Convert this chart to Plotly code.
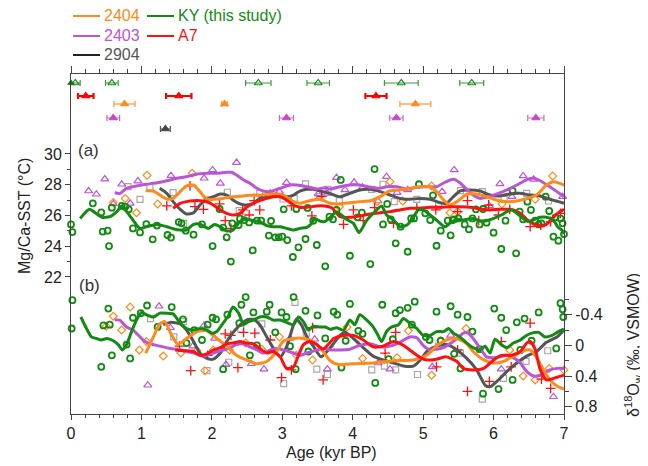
import plotly.graph_objects as go

# ---------------- data (ages in kyr BP) ----------------
# Mg/Ca-SST scatter (age, degC)
ky_sst_pts = [(0.00,25.42),(0.02,24.92),(0.31,26.79),(0.43,26.20),(0.45,24.95),(0.52,25.01),(0.54,24.01),(0.58,26.51),
              (0.72,26.62),(0.77,26.57),(0.82,26.40),(0.88,25.16),(0.98,24.90),(1.07,25.44),(1.16,24.45),(1.22,25.34),
              (1.37,24.73),(1.42,24.56),(1.53,25.57),(1.57,25.49),(1.63,25.01),(1.74,24.75),(1.86,25.42),(2.01,24.01),
              (2.11,26.42),(2.16,25.21),(2.21,24.58),(2.27,23.00),(2.29,25.49),(2.38,25.38),(2.40,25.79),(2.46,25.70),
              (2.53,25.55),(2.58,23.73),(2.64,25.66),(2.70,25.66),(2.81,24.69),(2.84,25.64),(2.90,24.58),(2.95,24.58),
              (3.00,24.62),(3.02,26.40),(3.07,24.40),(3.15,23.30),(3.20,26.42),(3.23,23.93),(3.33,24.47),(3.36,26.49),
              (3.44,25.66),(3.49,24.08),(3.61,22.69),(3.67,25.92),(3.72,25.75),(3.77,26.36),(3.83,28.31),(3.96,23.38),
              (4.07,25.88),(4.13,26.18),(4.25,22.84),(4.31,29.02),(4.43,25.42),(4.49,26.75),(4.54,25.75),(4.61,24.19),
              (4.68,25.27),(4.78,23.64),(4.83,25.81),(4.87,25.81),(4.94,28.03),(5.03,26.14),(5.10,25.70),(5.14,27.31),
              (5.19,24.03),(5.25,25.01),(5.35,25.66),(5.39,24.71),(5.42,25.70),(5.44,25.75),(5.50,25.81),(5.59,25.42),
              (5.65,25.10),(5.70,25.81),(5.75,26.40),(5.80,25.42),(5.85,26.42),(5.90,25.53),(6.00,24.88),(6.11,23.82),
              (6.17,25.66),(6.27,27.60),(6.32,23.54),(6.37,26.25),(6.42,25.75),(6.48,26.90),(6.53,26.36),(6.59,25.66),
              (6.64,25.42),(6.68,25.49),(6.74,27.22),(6.79,26.29),(6.85,24.62),(6.88,25.88),(6.92,24.36),(6.95,25.81),
              (6.98,25.49),(7.00,24.79)]
c2403_sst_pts = [(0.25,27.59),(0.36,27.38),(0.48,28.37),(0.60,26.75),(0.72,28.03),(0.84,26.79),(0.95,28.24),(1.42,28.59),
                 (1.89,28.42),(2.01,28.96),(2.12,28.09),(2.35,29.44),(2.83,27.44),(2.96,27.55),(3.06,28.13),(3.51,27.40),
                 (3.64,27.44),(3.77,28.46),(3.89,27.66),(4.02,28.16),(4.14,27.83),(4.36,26.94),(4.48,28.52),(4.63,27.48),
                 (4.78,27.66),(5.27,27.55),(5.44,28.96),(5.94,26.62),(6.09,28.05),(6.26,27.22),(6.42,28.57),(6.57,28.35),
                 (6.98,27.22)]
c2404_sst_pts = [(0.60,26.85),(0.77,27.11),(0.93,26.18),(1.08,28.61),(1.23,26.75),(1.72,28.74),(3.81,26.57),(4.35,26.90),
                 (4.53,28.20),(4.71,26.94),(5.12,27.92),(5.38,26.18),(5.49,26.25),(6.12,26.75),(6.59,27.05),(6.84,28.57)]
c2904_sst_pts = [(0.81,27.87),(0.98,27.05),(1.12,27.83),(1.45,27.48),(1.60,25.49),(1.93,27.01),(2.22,27.51),(2.39,26.31),
                 (2.68,27.44),(3.01,27.07),(3.17,27.11),(3.33,28.05),(3.53,27.22),(3.65,27.70),(3.81,26.96),(4.27,27.70),
                 (4.43,28.03),(4.59,26.90),(4.91,27.05),(5.22,26.62),(5.53,27.61),(5.84,27.55),(6.15,27.05),(6.47,27.44),
                 (6.78,26.94)]
a7_sst_pts = [(1.36,26.62),(1.69,27.92),(1.76,26.57),(1.88,26.40),(2.11,26.75),(2.19,25.66),(2.27,25.16),(2.44,26.36),
              (2.53,26.03),(2.60,26.96),(2.68,26.36),(3.13,26.62),(3.42,25.97),(3.56,27.22),(3.87,25.42),(4.01,26.36),
              (4.15,25.66),(4.31,26.51),(4.58,25.49),(4.91,26.47),(5.18,26.36),(5.49,26.25),(5.63,26.96),(5.79,25.66),
              (5.93,26.68),(6.07,26.03),(6.23,26.40),(6.52,25.27),(6.67,25.38),(6.81,25.60),(6.95,26.14)]

# Mg/Ca-SST smoothed curves
ky_sst_line = [(0.13,25.81),(0.26,26.40),(0.32,26.25),(0.44,25.88),(0.55,25.92),(0.65,26.25),(0.72,26.62),(0.79,26.25),
               (0.88,25.70),(0.98,25.16),(1.07,25.27),(1.22,25.42),(1.36,25.27),(1.45,25.14),(1.55,25.05),(1.64,25.05),
               (1.74,25.42),(1.83,25.44),(1.95,25.16),(2.04,25.42),(2.12,25.27),(2.21,24.99),(2.30,25.05),(2.40,25.60),
               (2.49,25.75),(2.59,25.66),(2.68,25.60),(2.78,25.34),(2.87,25.27),(2.97,25.27),(3.06,25.16),(3.16,25.05),
               (3.25,25.16),(3.35,25.23),(3.42,25.49),(3.46,25.81),(3.54,25.62),(3.61,25.62),(3.68,25.88),(3.77,26.25),
               (3.84,26.03),(3.91,25.75),(4.01,25.49),(4.09,24.88),(4.20,25.70),(4.29,26.14),(4.41,26.62),(4.48,26.03),
               (4.58,25.70),(4.67,25.27),(4.77,25.38),(4.86,25.88),(4.93,26.36),(5.00,26.36),(5.10,26.03),(5.19,25.70),
               (5.31,25.27),(5.38,25.49),(5.48,25.75),(5.57,25.70),(5.71,25.81),(5.81,25.66),(5.90,25.66),(6.00,25.81),
               (6.11,26.03),(6.19,26.25),(6.26,26.36),(6.33,26.14),(6.40,25.88),(6.49,25.60),(6.56,25.70),(6.66,25.88),
               (6.75,25.88),(6.85,25.70),(6.91,25.27),(6.97,25.05),(7.00,24.79)]
c2403_sst_line = [(0.62,27.48),(0.70,27.44),(0.79,27.77),(0.93,27.92),(1.07,28.03),(1.22,28.13),(1.36,28.26),(1.50,28.42),
                  (1.64,28.52),(1.78,28.68),(1.93,28.74),(2.07,28.74),(2.21,28.81),(2.28,28.81),(2.35,28.63),(2.45,28.31),
                  (2.54,28.09),(2.64,27.77),(2.73,27.59),(2.83,27.55),(2.92,27.70),(3.01,27.83),(3.11,27.98),(3.20,27.98),
                  (3.35,27.87),(3.49,27.72),(3.60,27.80),(3.68,27.72),(3.82,27.87),(3.96,27.98),(4.10,27.98),(4.25,27.83),
                  (4.39,27.77),(4.48,27.87),(4.63,27.87),(4.77,27.70),(4.91,27.83),(5.05,27.87),(5.19,27.87),(5.33,28.20),
                  (5.43,28.35),(5.52,28.13),(5.62,27.70),(5.71,27.33),(5.81,27.11),(5.90,27.18),(6.05,27.40),(6.19,27.66),
                  (6.33,27.98),(6.48,28.35),(6.57,28.42),(6.66,28.26),(6.80,27.87),(6.90,27.55),(7.00,27.22)]
c2404_sst_line = [(1.06,27.61),(1.17,27.59),(1.26,27.33),(1.36,27.07),(1.45,27.11),(1.55,27.55),(1.64,27.92),(1.74,27.98),
                  (1.83,27.55),(1.93,27.05),(2.02,27.05),(2.16,27.11),(2.30,27.22),(2.45,27.27),(2.59,27.33),(2.73,27.33),
                  (2.87,27.40),(3.01,27.33),(3.16,26.90),(3.25,26.79),(3.39,26.96),(3.54,27.05),(3.68,26.79),(3.82,26.75),
                  (3.96,26.83),(4.10,26.90),(4.25,26.96),(4.39,27.22),(4.53,27.61),(4.67,27.66),(4.81,27.77),(4.95,27.87),
                  (5.10,27.87),(5.19,27.55),(5.29,27.01),(5.38,26.68),(5.48,26.90),(5.62,27.38),(5.76,27.40),(5.90,27.22),
                  (6.04,27.01),(6.19,26.90),(6.33,26.94),(6.48,27.11),(6.61,27.33),(6.75,27.98),(6.85,28.20),(6.94,28.09),
                  (7.00,27.98)]
c2904_sst_line = [(1.26,27.77),(1.36,27.44),(1.45,26.90),(1.55,26.40),(1.64,26.10),(1.74,26.18),(1.83,26.68),(1.93,27.05),
                  (2.02,27.22),(2.12,27.40),(2.21,27.33),(2.30,27.01),(2.40,26.75),(2.49,26.68),(2.59,26.79),(2.68,27.11),
                  (2.78,27.27),(2.92,27.40),(3.06,27.22),(3.16,27.33),(3.25,27.59),(3.35,27.70),(3.44,27.70),(3.56,27.57),
                  (3.68,27.42),(3.82,27.22),(3.96,27.44),(4.10,27.66),(4.25,27.70),(4.39,27.55),(4.53,27.33),(4.67,27.11),
                  (4.81,27.05),(4.95,27.11),(5.10,27.05),(5.24,26.83),(5.33,26.79),(5.43,27.22),(5.52,27.59),(5.66,27.66),
                  (5.81,27.59),(5.95,27.33),(6.09,27.27),(6.23,27.40),(6.37,27.44),(6.52,27.33),(6.66,27.27),(6.80,27.05),
                  (6.92,26.90),(7.00,26.79)]
a7_sst_line = [(1.45,26.47),(1.55,26.79),(1.64,26.90),(1.74,26.96),(1.83,26.96),(1.93,26.90),(2.02,26.68),(2.12,26.36),
               (2.21,26.14),(2.30,26.03),(2.40,26.14),(2.49,26.53),(2.59,26.79),(2.68,26.96),(2.78,27.11),(2.87,27.22),
               (2.97,27.22),(3.06,27.01),(3.16,26.68),(3.25,26.53),(3.35,26.53),(3.49,26.62),(3.60,26.62),(3.70,26.50),
               (3.82,25.92),(3.96,25.88),(4.10,25.97),(4.25,26.10),(4.39,26.18),(4.53,26.25),(4.67,26.36),(4.81,26.47),
               (4.95,26.47),(5.10,26.53),(5.24,26.53),(5.38,26.57),(5.52,26.57),(5.67,26.53),(5.81,26.42),(5.95,26.36),
               (6.09,26.40),(6.23,26.40),(6.37,26.18),(6.47,25.75),(6.57,25.44),(6.66,25.31),(6.75,25.42),(6.85,25.88),
               (6.94,26.25),(7.00,26.40)]

# delta18O seawater scatter (age, permil VSMOW)
ky_d18o_pts = [(0.01,-0.22),(0.02,-0.59),(0.43,0.28),(0.46,-0.26),(0.53,-0.48),(0.55,-0.27),(0.58,0.13),(0.79,-0.01),
               (0.84,0.17),(0.88,-0.36),(0.99,-0.42),(1.08,-0.52),(1.23,-0.24),(1.43,-0.50),(1.59,-0.34),(1.64,-0.03),
               (1.75,-0.20),(1.86,-0.07),(1.94,-0.27),(2.01,-0.36),(2.06,-0.34),(2.16,0.31),(2.22,-0.40),(2.39,-0.29),
               (2.42,-0.53),(2.48,-0.63),(2.54,0.13),(2.59,-0.43),(2.64,0.00),(2.78,-0.44),(2.82,-0.53),(2.90,-0.17),
               (2.99,-0.43),(3.06,-0.37),(3.11,0.01),(3.16,-0.63),(3.19,0.31),(3.33,-0.45),(3.37,0.08),(3.50,-0.39),
               (3.61,-0.09),(3.73,-0.44),(3.78,-0.40),(3.84,0.29),(3.90,-0.06),(3.96,-0.54),(4.08,-0.19),(4.14,-0.15),
               (4.32,0.49),(4.42,-0.53),(4.51,0.18),(4.57,-0.08),(4.61,-0.42),(4.67,-0.46),(4.78,-0.49),(4.84,-0.27),
               (4.88,-0.57),(5.04,-0.11),(5.09,-0.07),(5.19,-0.44),(5.25,-0.06),(5.39,-0.51),(5.44,0.11),(5.49,-0.40),
               (5.53,0.30),(5.63,-0.37),(5.70,-0.18),(5.80,0.05),(5.85,0.63),(6.01,-0.48),(6.07,0.57),(6.11,-0.36),
               (6.18,-0.20),(6.27,0.45),(6.33,-0.30),(6.38,0.06),(6.44,-0.35),(6.54,-0.06),(6.64,-0.43),(6.89,0.04),
               (6.95,-0.55),(6.98,-0.47),(6.99,-0.37)]
c2403_d18o_pts = [(1.09,0.52),(1.25,-0.51),(1.41,-0.23),(1.73,0.01),(1.89,-0.26),(2.04,-0.09),(2.20,0.25),(2.56,0.24),
                  (2.74,0.31),(3.11,-0.09),(3.46,-0.08),(3.64,0.31),(4.36,0.23),(4.53,0.31),(5.13,0.28),(5.39,-0.13),
                  (6.11,0.31),(6.85,0.67)]
c2404_d18o_pts = [(0.50,-0.25),(0.60,-0.38),(0.72,-0.20),(0.84,-0.50),(0.97,0.06),(1.07,-0.05),(1.31,0.14),(1.56,0.10),
                  (1.79,0.07),(1.90,0.33),(2.02,0.06),(2.25,0.06),(2.48,-0.03),(2.71,0.05),(2.96,-0.11),(3.20,0.13),
                  (3.43,0.19),(3.67,0.01),(3.92,-0.24),(4.14,0.17),(4.63,0.16),(4.79,-0.19),(5.12,0.39),(5.25,-0.06),
                  (5.61,-0.22),(6.23,0.06),(6.42,0.40),(6.59,0.45),(6.79,0.30),(7.00,0.32)]
c2904_d18o_pts = [(1.13,-0.35),(1.46,-0.11),(1.60,-0.31),(1.93,0.33),(2.24,0.22),(2.41,-0.21),(2.71,-0.28),(3.02,0.50),
                  (3.18,-0.56),(3.34,-0.16),(3.49,0.31),(3.64,0.38),(4.27,0.32),(4.45,0.27),(4.61,0.32),(4.92,0.38),
                  (5.22,0.01),(5.53,0.10),(5.84,0.70),(6.14,0.43),(6.46,0.21),(6.77,0.07)]
a7_d18o_pts = [(1.54,0.01),(1.70,0.33),(1.94,0.13),(2.19,-0.15),(2.27,-0.13),(2.37,0.29),(2.45,-0.17),(2.61,-0.16),
               (2.83,-0.07),(2.99,0.42),(3.13,0.32),(3.43,-0.23),(3.58,0.45),(4.46,0.10),(4.61,-0.17),(5.19,0.28),
               (5.49,0.06),(5.63,0.60),(5.94,0.47),(6.11,-0.05),(6.25,0.28),(6.52,-0.29),(6.68,0.44),(6.81,0.56)]

# delta18O seawater smoothed curves
ky_d18o_line = [(0.14,-0.37),(0.22,-0.22),(0.29,-0.11),(0.36,-0.09),(0.43,-0.07),(0.51,-0.09),(0.60,-0.06),(0.67,-0.01),
                (0.73,0.06),(0.79,-0.01),(0.86,-0.18),(0.93,-0.33),(1.00,-0.43),(1.07,-0.40),(1.17,-0.37),(1.26,-0.42),
                (1.36,-0.42),(1.45,-0.41),(1.52,-0.33),(1.57,-0.27),(1.64,-0.22),(1.74,-0.20),(1.83,-0.22),(1.93,-0.20),
                (2.00,-0.16),(2.07,-0.18),(2.16,-0.29),(2.23,-0.38),(2.30,-0.50),(2.38,-0.42),(2.45,-0.27),(2.52,-0.31),
                (2.59,-0.33),(2.68,-0.37),(2.78,-0.37),(2.87,-0.33),(2.97,-0.33),(3.06,-0.30),(3.16,-0.27),(3.23,-0.37),
                (3.30,-0.31),(3.37,-0.20),(3.44,-0.25),(3.54,-0.24),(3.61,-0.24),(3.68,-0.21),(3.77,-0.23),(3.87,-0.20),
                (3.96,-0.33),(4.03,-0.27),(4.10,-0.40),(4.20,-0.33),(4.29,-0.24),(4.36,-0.13),(4.41,-0.05),(4.48,-0.18),
                (4.55,-0.24),(4.65,-0.27),(4.72,-0.35),(4.81,-0.29),(4.91,-0.22),(5.00,-0.13),(5.10,-0.13),(5.19,-0.18),
                (5.29,-0.18),(5.36,-0.22),(5.43,-0.16),(5.52,-0.11),(5.62,-0.03),(5.71,0.03),(5.81,0.06),(5.88,0.01),
                (5.95,0.10),(6.02,-0.08),(6.11,-0.01),(6.19,0.03),(6.28,-0.03),(6.38,-0.07),(6.45,-0.12),(6.54,-0.16),
                (6.64,-0.17),(6.73,-0.11),(6.83,-0.13),(6.92,-0.18),(7.00,-0.21)]
c2403_d18o_line = [(0.62,-0.33),(0.69,-0.33),(0.79,-0.24),(0.88,-0.20),(0.98,-0.11),(1.07,-0.04),(1.17,-0.01),(1.26,0.01),
                   (1.41,0.04),(1.55,0.06),(1.74,0.10),(1.88,0.14),(2.02,0.10),(2.16,0.06),(2.26,0.03),(2.35,-0.01),
                   (2.45,-0.02),(2.54,0.02),(2.64,0.06),(2.73,0.10),(2.83,0.06),(2.92,0.04),(3.06,0.07),(3.16,0.10),
                   (3.25,0.13),(3.35,0.10),(3.49,0.06),(3.60,0.04),(3.68,0.06),(3.82,0.06),(3.96,0.05),(4.10,0.00),
                   (4.25,-0.02),(4.39,0.02),(4.53,0.01),(4.67,-0.04),(4.81,-0.11),(4.91,-0.10),(5.00,0.00),(5.10,0.06),
                   (5.19,0.05),(5.29,0.03),(5.38,-0.02),(5.48,-0.09),(5.57,-0.16),(5.64,-0.16),(5.71,-0.09),(5.81,0.04),
                   (5.90,0.15),(6.00,0.16),(6.09,0.15),(6.19,0.13),(6.28,0.16),(6.38,0.23),(6.47,0.34),(6.57,0.40),
                   (6.66,0.39),(6.80,0.32),(6.90,0.30),(7.00,0.30)]
c2404_d18o_line = [(1.06,0.10),(1.17,-0.11),(1.26,-0.28),(1.33,-0.31),(1.43,-0.13),(1.52,-0.01),(1.64,-0.09),(1.79,-0.18),
                   (1.93,-0.19),(2.07,-0.09),(2.21,0.01),(2.35,0.13),(2.49,0.19),(2.64,0.24),(2.78,0.21),(2.92,0.08),
                   (3.01,-0.05),(3.16,-0.09),(3.30,-0.09),(3.44,-0.05),(3.58,0.08),(3.68,0.20),(3.80,0.25),(4.01,0.24),
                   (4.29,0.23),(4.58,0.20),(4.86,0.19),(5.05,0.13),(5.19,0.01),(5.33,-0.07),(5.48,-0.09),(5.62,-0.02),
                   (5.71,0.08),(5.86,0.19),(6.00,0.23),(6.14,0.21),(6.28,0.14),(6.42,0.07),(6.52,0.06),(6.61,0.16),
                   (6.71,0.32),(6.80,0.45),(6.90,0.53),(7.00,0.57)]
c2904_d18o_line = [(1.31,-0.27),(1.41,-0.30),(1.55,-0.28),(1.64,-0.20),(1.74,-0.05),(1.83,0.10),(1.93,0.17),(2.02,0.18),
                   (2.12,0.10),(2.21,-0.05),(2.35,-0.22),(2.49,-0.33),(2.59,-0.34),(2.68,-0.27),(2.78,-0.11),(2.87,0.03),
                   (2.97,0.15),(3.06,0.02),(3.16,-0.27),(3.20,-0.34),(3.27,-0.27),(3.35,-0.11),(3.44,0.01),(3.55,0.15),
                   (3.68,0.03),(3.82,-0.13),(3.89,-0.17),(4.01,-0.09),(4.15,0.03),(4.29,0.14),(4.43,0.19),(4.58,0.23),
                   (4.72,0.27),(4.86,0.27),(4.96,0.19),(5.05,0.08),(5.19,0.01),(5.33,-0.01),(5.48,0.06),(5.62,0.17),
                   (5.76,0.32),(5.88,0.52),(5.95,0.54),(6.07,0.45),(6.19,0.34),(6.33,0.23),(6.47,0.14),(6.61,0.08),
                   (6.75,-0.04),(6.90,-0.11),(7.00,-0.20)]
a7_d18o_line = [(1.48,0.06),(1.60,0.07),(1.74,0.08),(1.83,0.13),(1.93,0.11),(2.02,0.06),(2.12,0.03),(2.21,-0.02),
                (2.30,-0.03),(2.40,-0.05),(2.49,-0.03),(2.59,-0.02),(2.68,0.04),(2.78,0.10),(2.87,0.08),(2.97,0.15),
                (3.06,0.30),(3.16,0.28),(3.23,0.13),(3.30,-0.01),(3.39,-0.05),(3.49,-0.01),(3.58,0.05),(3.73,-0.09),
                (3.87,-0.13),(4.01,-0.13),(4.15,-0.07),(4.29,0.02),(4.43,0.01),(4.58,-0.05),(4.72,0.00),(4.81,0.06),
                (4.96,0.16),(5.05,0.19),(5.19,0.18),(5.33,0.15),(5.48,0.21),(5.57,0.30),(5.71,0.32),(5.86,0.30),
                (6.00,0.19),(6.11,0.13),(6.26,0.13),(6.38,0.08),(6.47,-0.03),(6.52,-0.05),(6.59,0.05),(6.66,0.31),
                (6.75,0.45),(6.85,0.43),(7.00,0.39)]

# age-control points (age, 1-sigma error, kyr)
ky_dates = [(0.06,0.07),(0.58,0.09),(2.66,0.18),(3.51,0.16),(4.69,0.24),(5.69,0.17)]
ky_core_top = [0.00]
a7_dates = [(0.21,0.11),(1.53,0.18),(4.33,0.15)]
c2404_dates = [(0.76,0.15),(2.18,0.04),(4.89,0.22)]
c2403_dates = [(0.60,0.09),(3.06,0.10),(4.62,0.095),(6.60,0.115)]
c2904_dates = [(1.34,0.07)]

sst_ticks = [22, 24, 26, 28, 30]
d18o_ticks = [-0.4, 0, 0.4, 0.8]
age_ticks = [0, 1, 2, 3, 4, 5, 6, 7]

# ---------------- styling ----------------
C_KY, C_2404, C_2403, C_A7, C_2904 = "#138a13", "#ff8a1c", "#bb55d8", "#ff1010", "#555555"
M_2904 = "#a8a8a8"
FONT = "Liberation Sans"
# vertical offsets (plot pixels from top) of the age-control rows
ROW = {"KY": 9, "A7": 22, "2404": 30, "2403": 44, "2904": 55}

# the page body has an 8px margin: figure is drawn at (8, 8) inside the window
OFF = 8
W, H = 648 - OFF, 466 - OFF
PL, PR, PT, PB = 71 - OFF, 564 - OFF, 74 - OFF, 414 - OFF   # plot area in figure pixels

def xs(p): return [a for a, _ in p]
def ys(p): return [v for _, v in p]

fig = go.Figure()

def add_pts(pts, yax, sym, color, size, lw):
    fig.add_trace(go.Scatter(x=xs(pts), y=ys(pts), yaxis=yax, mode="markers", cliponaxis=False,
                             marker=dict(symbol=sym, size=size, color=color, line=dict(color=color, width=lw)),
                             showlegend=False, hoverinfo="skip"))

def add_line(pts, yax, color):
    fig.add_trace(go.Scatter(x=xs(pts), y=ys(pts), yaxis=yax, mode="lines", cliponaxis=False,
                             line=dict(color=color, width=3, shape="spline", smoothing=0.6),
                             showlegend=False, hoverinfo="skip"))

for yax, sets in (("y", (ky_sst_pts, c2403_sst_pts, c2404_sst_pts, c2904_sst_pts, a7_sst_pts)),
                  ("y2", (ky_d18o_pts, c2403_d18o_pts, c2404_d18o_pts, c2904_d18o_pts, a7_d18o_pts))):
    add_pts(sets[3], yax, "square-open", M_2904, 6, 1.2)
    add_pts(sets[1], yax, "triangle-up-open", C_2403, 7, 1.2)
    add_pts(sets[2], yax, "diamond-open", C_2404, 6, 1.2)
    add_pts(sets[4], yax, "cross-thin-open", C_A7, 7, 1.3)
    add_pts(sets[0], yax, "circle-open", C_KY, 6, 1.8)

for yax, lines in (("y", (ky_sst_line, c2403_sst_line, c2404_sst_line, c2904_sst_line, a7_sst_line)),
                   ("y2", (ky_d18o_line, c2403_d18o_line, c2404_d18o_line, c2904_d18o_line, a7_d18o_line))):
    add_line(lines[3], yax, C_2904)
    add_line(lines[1], yax, C_2403)
    add_line(lines[2], yax, C_2404)
    add_line(lines[4], yax, C_A7)
    add_line(lines[0], yax, C_KY)

def add_dates(dates, row, color, bar_color, sym, thick):
    fig.add_trace(go.Scatter(x=xs(dates), y=[ROW[row]] * len(dates), yaxis="y3", mode="markers", cliponaxis=False,
                             marker=dict(symbol=sym, size=7, color=color, line=dict(color=color, width=1.2)),
                             error_x=dict(type="data", array=ys(dates), visible=True, color=bar_color,
                                          thickness=thick, width=3),
                             showlegend=False, hoverinfo="skip"))

add_dates(ky_dates, "KY", C_KY, "#3c9a3c", "triangle-up-open", 1.2)
fig.add_trace(go.Scatter(x=ky_core_top, y=[ROW["KY"]], yaxis="y3", mode="markers", cliponaxis=False,
                         marker=dict(symbol="triangle-up", size=7, color="#137013"), showlegend=False, hoverinfo="skip"))
add_dates(a7_dates, "A7", "#ff0000", "#ff0000", "triangle-up", 2.2)
add_dates(c2404_dates, "2404", C_2404, "#ffaa5a", "triangle-up", 1.5)
add_dates(c2403_dates, "2403", "#cc44cc", "#cc66cc", "triangle-up", 1.2)
add_dates(c2904_dates, "2904", "#444444", "#555555", "triangle-up", 1.2)

# invisible trace to create the top (mirror) axis
fig.add_trace(go.Scatter(x=[0], y=[20], xaxis="x2", yaxis="y", mode="markers",
                         marker=dict(opacity=0), showlegend=False, hoverinfo="skip"))

AX = "#444444"
tickfont = dict(family=FONT, size=16, color="#222222")
fig.update_layout(
    width=W, height=H, margin=dict(l=PL, r=W - PR, t=PT, b=H - PB, autoexpand=False),
    paper_bgcolor="white", plot_bgcolor="white", showlegend=False,
    font=dict(family=FONT, size=16, color="#222222"),
    xaxis=dict(range=[0, 7], tickmode="array", tickvals=age_ticks, ticks="outside", ticklen=5, tickwidth=1,
               tickcolor=AX, showline=True, linecolor=AX, linewidth=1, showgrid=False, zeroline=False,
               automargin=False, tickfont=tickfont,
               minor=dict(tickmode="linear", tick0=0, dtick=0.2, ticks="outside",
                          ticklen=3, tickcolor=AX, tickwidth=1)),
    xaxis2=dict(range=[0, 7], overlaying="x", side="top", anchor="y", tickmode="array", tickvals=age_ticks,
                ticks="outside", ticklen=7, tickwidth=1, tickcolor=AX, showline=True, linecolor=AX, linewidth=1,
                showticklabels=False, showgrid=False, zeroline=False, automargin=False,
                minor=dict(tickmode="linear", tick0=0, dtick=0.2, ticks="outside", ticklen=4,
                           tickcolor=AX, tickwidth=1)),
    yaxis=dict(range=[13.09, 35.20], tickmode="array", tickvals=sst_ticks, ticks="outside", ticklen=5,
               tickwidth=1, tickcolor=AX, showline=True, linecolor=AX, linewidth=1, showgrid=False,
               zeroline=False, automargin=False, tickfont=tickfont,
               minor=dict(tickmode="array", tickvals=[23, 25, 27, 29], ticks="outside", ticklen=3,
                          tickcolor=AX, tickwidth=1)),
    yaxis2=dict(range=[0.895, -3.539], overlaying="y", side="right", anchor="x", tickmode="array",
                tickvals=d18o_ticks, ticktext=["-0.4", "0", "0.4", "0.8"], ticks="outside", ticklen=7,
                tickwidth=1, tickcolor=AX, showline=True, linecolor=AX, linewidth=1, showgrid=False,
                zeroline=False, automargin=False, tickfont=tickfont,
                minor=dict(tickmode="array", tickvals=[-0.6, -0.2, 0.2, 0.6], ticks="outside", ticklen=4,
                           tickcolor=AX, tickwidth=1)),
    yaxis3=dict(range=[340, 0], overlaying="y", visible=False),
)

# helpers: window pixel -> paper coordinates (layout only)
def px(x): return (x - OFF - PL) / float(PR - PL)
def py(y): return (PB - (y - OFF)) / float(PB - PT)

ann = [
    dict(text="Mg/Ca-SST (°C)", x=px(24), y=py(216), textangle=-90),
    dict(text="δ<sup>18</sup>O<sub>w</sub> (‰, VSMOW)", x=px(633), y=py(345), textangle=-90),
    dict(text="Age (kyr BP)", x=px(331), y=py(452)),
    dict(text="(a)", x=px(88), y=py(150), font=dict(family=FONT, size=17, color="#333333")),
    dict(text="(b)", x=px(89), y=py(285), font=dict(family=FONT, size=17, color="#333333")),
]
legend_items = [("2404", C_2404, C_2404, 73, 16), ("KY (this study)", C_KY, C_KY, 147, 16),
                ("2403", C_2403, C_2403, 73, 36), ("A7", C_A7, C_A7, 147, 36),
                ("2904", "#222222", "#555555", 73, 55)]
shapes = []
for label, lc, tc, x0, y0 in legend_items:
    shapes.append(dict(type="line", xref="paper", yref="paper", x0=px(x0), x1=px(x0 + 27),
                       y0=py(y0), y1=py(y0), line=dict(color=lc, width=2)))
    ann.append(dict(text=label, x=px(x0 + 29), y=py(y0), xanchor="left",
                    font=dict(family=FONT, size=16, color=tc)))
for a in ann:
    a.setdefault("xanchor", "center")
    a.update(xref="paper", yref="paper", yanchor="middle", showarrow=False)
fig.update_layout(annotations=ann, shapes=shapes)

fig.write_html("out.html")
